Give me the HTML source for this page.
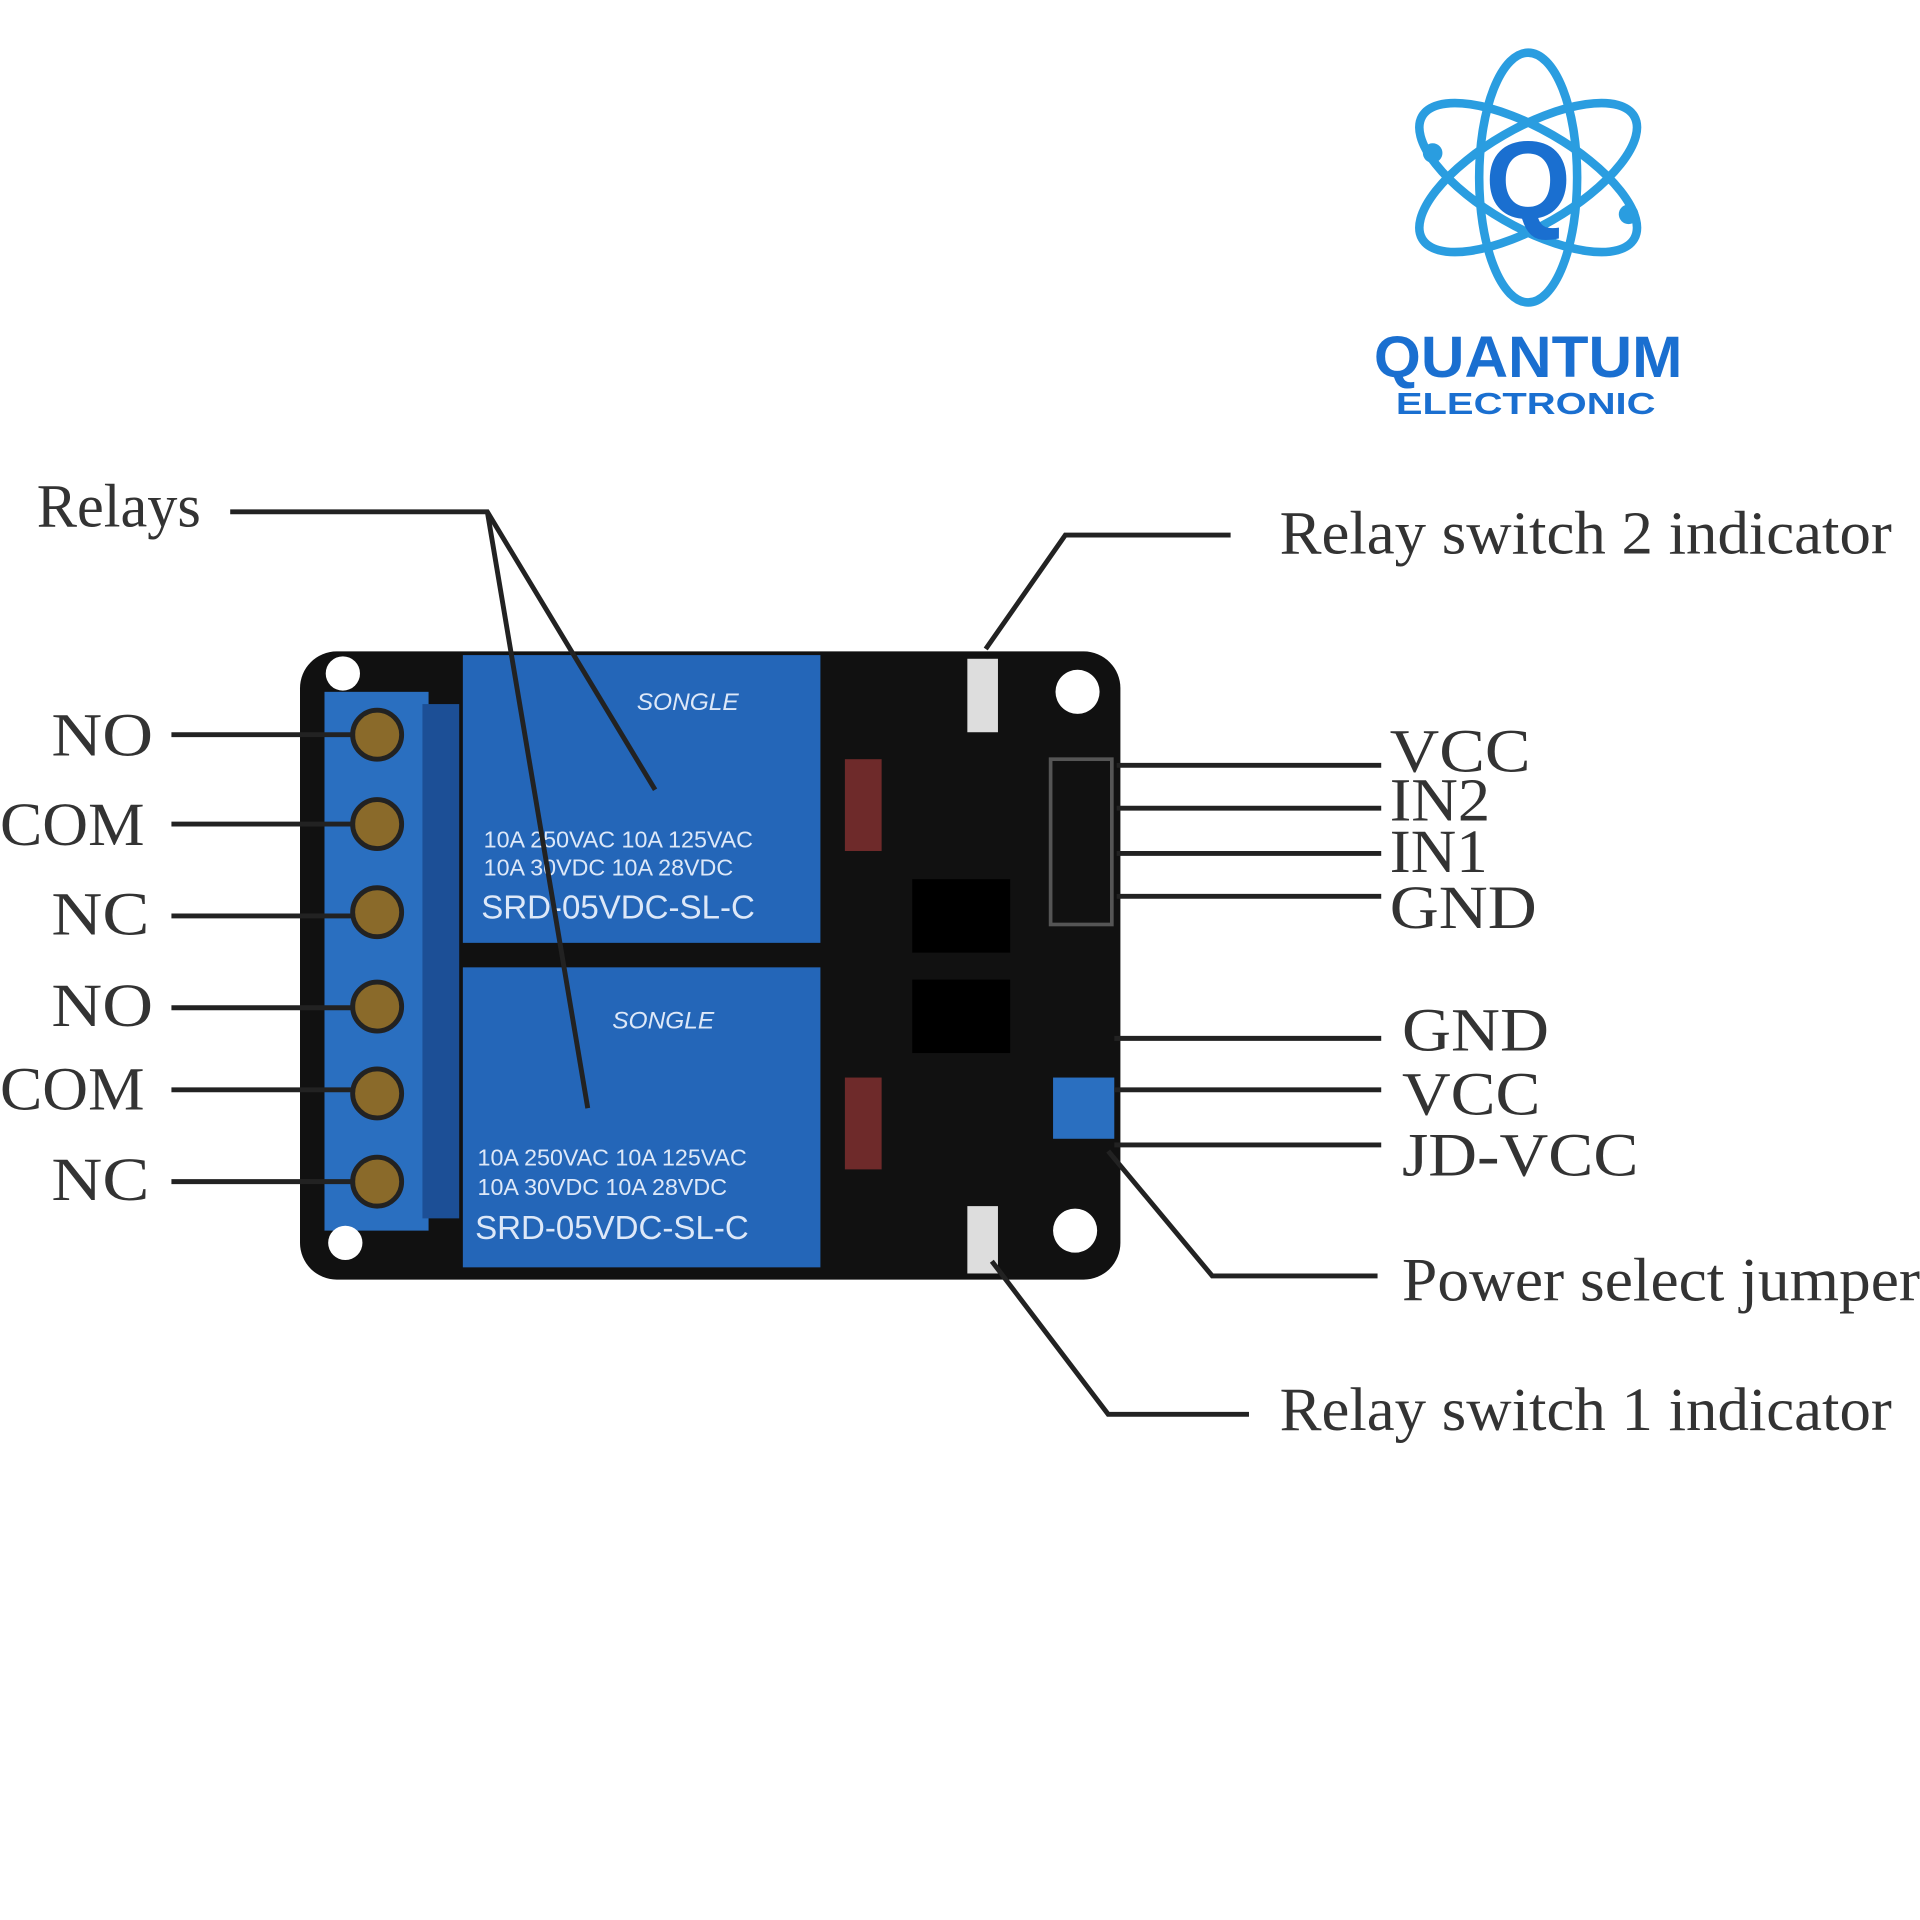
<!DOCTYPE html>
<html><head><meta charset="utf-8"><style>
html,body{margin:0;padding:0;background:#fff;}
svg{display:block}
.lbl{font-family:"Liberation Serif",serif;fill:#333;}
</style></head><body>
<svg width="1920" height="1920" viewBox="0 0 1568 1568" xmlns="http://www.w3.org/2000/svg">
<rect width="1568" height="1568" fill="#fff"/>
<g fill="none" stroke="#2a9de0" stroke-width="7">
<ellipse cx="1248" cy="145" rx="100" ry="40" transform="rotate(-30 1248 145)"/>
<ellipse cx="1248" cy="145" rx="100" ry="40" transform="rotate(30 1248 145)"/>
<ellipse cx="1248" cy="145" rx="40" ry="102"/>
</g>
<circle cx="1170" cy="125" r="8" fill="#2a9de0"/>
<circle cx="1330" cy="175" r="8" fill="#2a9de0"/>
<text x="1248" y="178" text-anchor="middle" font-family="Liberation Sans,sans-serif" font-weight="bold" font-size="90" fill="#1a6fd0">Q</text>
<text x="1122" y="308" font-family="Liberation Sans,sans-serif" font-weight="bold" font-size="48" fill="#1a6fd0" textLength="252" lengthAdjust="spacingAndGlyphs">QUANTUM</text>
<text x="1140" y="338" font-family="Liberation Sans,sans-serif" font-weight="bold" font-size="25" fill="#1a6fd0" textLength="212" lengthAdjust="spacingAndGlyphs">ELECTRONIC</text>

<rect x="245" y="532" width="670" height="513" rx="30" fill="#111"/>
<rect x="265" y="565" width="85" height="440" fill="#2a6fc0"/>
<rect x="345" y="575" width="30" height="420" fill="#1c4f96"/>
<g fill="#8a6a2a" stroke="#222" stroke-width="4">
<circle cx="308" cy="600" r="20"/><circle cx="308" cy="673" r="20"/><circle cx="308" cy="745" r="20"/>
<circle cx="308" cy="822" r="20"/><circle cx="308" cy="893" r="20"/><circle cx="308" cy="965" r="20"/>
</g>
<rect x="378" y="535" width="292" height="235" fill="#2466b8"/>
<rect x="378" y="790" width="292" height="245" fill="#2466b8"/>
<g font-family="Liberation Sans,sans-serif" fill="#dde8f8">
<text x="520" y="580" font-size="20" font-style="italic">SONGLE</text>
<text x="395" y="692" font-size="19">10A 250VAC  10A 125VAC</text>
<text x="395" y="715" font-size="19">10A  30VDC  10A  28VDC</text>
<text x="393" y="750" font-size="27">SRD-05VDC-SL-C</text>
<text x="500" y="840" font-size="20" font-style="italic">SONGLE</text>
<text x="390" y="952" font-size="19">10A 250VAC  10A 125VAC</text>
<text x="390" y="976" font-size="19">10A  30VDC  10A  28VDC</text>
<text x="388" y="1012" font-size="27">SRD-05VDC-SL-C</text>
</g>
<rect x="745" y="718" width="80" height="60" fill="#000"/>
<rect x="745" y="800" width="80" height="60" fill="#000"/>
<rect x="858" y="620" width="50" height="135" fill="none" stroke="#555" stroke-width="3"/>
<rect x="860" y="880" width="50" height="50" fill="#2a6fc0"/>
<rect x="790" y="538" width="25" height="60" fill="#ddd"/>
<rect x="790" y="985" width="25" height="55" fill="#ddd"/>
<rect x="690" y="620" width="30" height="75" fill="#c44" opacity=".5"/>
<rect x="690" y="880" width="30" height="75" fill="#c44" opacity=".5"/>
<g fill="#fff">
<circle cx="280" cy="550" r="14"/><circle cx="880" cy="565" r="18"/>
<circle cx="282" cy="1015" r="14"/><circle cx="878" cy="1005" r="18"/>
</g>

<g stroke="#222" stroke-width="4" fill="none">
<polyline points="188,418 398,418 535,645"/>
<line x1="398" y1="418" x2="480" y2="905"/>
<line x1="140" y1="600" x2="290" y2="600"/>
<line x1="140" y1="673" x2="290" y2="673"/>
<line x1="140" y1="748" x2="290" y2="748"/>
<line x1="140" y1="823" x2="290" y2="823"/>
<line x1="140" y1="890" x2="290" y2="890"/>
<line x1="140" y1="965" x2="290" y2="965"/>
<line x1="912" y1="625" x2="1128" y2="625"/>
<line x1="912" y1="660" x2="1128" y2="660"/>
<line x1="912" y1="697" x2="1128" y2="697"/>
<line x1="912" y1="732" x2="1128" y2="732"/>
<line x1="910" y1="848" x2="1128" y2="848"/>
<line x1="910" y1="890" x2="1128" y2="890"/>
<line x1="910" y1="935" x2="1128" y2="935"/>
<polyline points="805,530 870,437 1005,437"/>
<polyline points="905,940 990,1042 1125,1042"/>
<polyline points="810,1030 905,1155 1020,1155"/>
</g>

<g class="lbl" font-size="50" lengthAdjust="spacingAndGlyphs">
<text x="30" y="430" textLength="134" lengthAdjust="spacingAndGlyphs">Relays</text>
<text x="42" y="617" textLength="83" lengthAdjust="spacingAndGlyphs">NO</text>
<text x="0" y="690" textLength="118" lengthAdjust="spacingAndGlyphs">COM</text>
<text x="42" y="763" textLength="80" lengthAdjust="spacingAndGlyphs">NC</text>
<text x="42" y="838" textLength="83" lengthAdjust="spacingAndGlyphs">NO</text>
<text x="0" y="906" textLength="118" lengthAdjust="spacingAndGlyphs">COM</text>
<text x="42" y="980" textLength="80" lengthAdjust="spacingAndGlyphs">NC</text>
<text x="1045" y="452" textLength="500" lengthAdjust="spacingAndGlyphs">Relay switch 2 indicator</text>
<text x="1135" y="630" textLength="115" lengthAdjust="spacingAndGlyphs">VCC</text>
<text x="1135" y="670" textLength="82" lengthAdjust="spacingAndGlyphs">IN2</text>
<text x="1135" y="712" textLength="80" lengthAdjust="spacingAndGlyphs">IN1</text>
<text x="1135" y="758" textLength="120" lengthAdjust="spacingAndGlyphs">GND</text>
<text x="1145" y="858" textLength="120" lengthAdjust="spacingAndGlyphs">GND</text>
<text x="1145" y="910" textLength="113" lengthAdjust="spacingAndGlyphs">VCC</text>
<text x="1145" y="960" textLength="193" lengthAdjust="spacingAndGlyphs">JD-VCC</text>
<text x="1145" y="1062" textLength="423" lengthAdjust="spacingAndGlyphs">Power select jumper</text>
<text x="1045" y="1168" textLength="500" lengthAdjust="spacingAndGlyphs">Relay switch 1 indicator</text>
</g>
</svg>
</body></html>
